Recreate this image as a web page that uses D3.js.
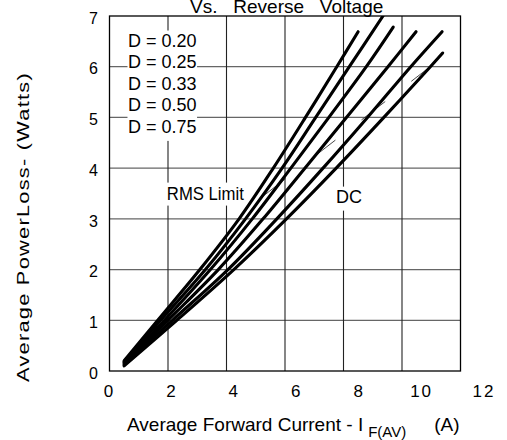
<!DOCTYPE html>
<html>
<head>
<meta charset="utf-8">
<script src="https://cdn.jsdelivr.net/npm/d3@7"></script>
<style>
  body { margin: 0; background: #fff; }
  text { font-family: "Liberation Sans", Arial, sans-serif; fill: #000; }
</style>
</head>
<body>
<svg id="chart" width="507" height="440"></svg>
<script>
(function () {
  'use strict';

  var xTicks = [0, 2, 4, 6, 8, 10, 12];
  var yTicks = [0, 1, 2, 3, 4, 5, 6, 7];
  var legendLabels = ["D = 0.20", "D = 0.25", "D = 0.33", "D = 0.50", "D = 0.75"];

  // [current (A), power loss (W)]
  var duty020 = [[0.5, 0.20], [1.65, 1], [3.09, 2], [4.43, 3], [5.60, 4], [6.70, 5], [7.77, 6], [8.50, 6.69]];
  var duty025 = [[0.5, 0.18], [1.75, 1], [3.28, 2], [4.65, 3], [5.90, 4], [7.05, 5], [8.20, 6], [9.35, 7.0]];
  var duty033 = [[0.5, 0.16], [1.88, 1], [3.45, 2], [4.88, 3], [6.20, 4], [7.50, 5], [8.78, 6], [9.70, 6.78]];
  var duty050 = [[0.5, 0.14], [2.00, 1], [3.72, 2], [5.25, 3], [6.68, 4], [8.10, 5], [9.52, 6], [10.48, 6.69]];
  var duty075 = [[0.5, 0.12], [2.15, 1], [4.05, 2], [5.72, 3], [7.30, 4], [8.82, 5], [10.30, 6], [11.37, 6.69]];
  var dcCurve = [[0.5, 0.10], [2.30, 1], [4.25, 2], [6.05, 3], [7.75, 4], [9.38, 5], [10.97, 6], [11.39, 6.27]];
  var curves = [duty020, duty025, duty033, duty050, duty075, dcCurve];

  var rmsLimit = [[5.21, 3.43], [11.03, 6.03]];

  var W = 507, H = 440;
  var margin = {left: 109.5, top: 16, right: 46.5, bottom: 69};
  var w = W - margin.left - margin.right;
  var h = H - margin.top - margin.bottom;

  var x = d3.scaleLinear().domain([0, 12]).range([0, w]);
  var y = d3.scaleLinear().domain([0, 7]).range([h, 0]);
  // the printed tick numbers sit a little wider apart than the grid
  var xLab = d3.scaleLinear().domain([0, 12]).range([-0.5, 374]);

  var svg = d3.select("#chart");

  svg.append("text")
    .attr("x", 190).attr("y", 13)
    .style("font-size", "19px")
    .style("white-space", "pre")
    .text("Vs.   Reverse   Voltage");

  var g = svg.append("g")
    .attr("transform", "translate(" + margin.left + "," + margin.top + ")");

  g.append("clipPath").attr("id", "plotClip")
    .append("rect").attr("width", w).attr("height", h);

  // grid
  g.append("g").selectAll("line")
    .data(y.ticks(7).filter(function (d) { return d > 0 && d < 7; }))
    .enter().append("line")
    .attr("x1", 0).attr("x2", w)
    .attr("y1", function (d) { return y(d); })
    .attr("y2", function (d) { return y(d); })
    .style("stroke", "#666").style("stroke-width", 1.3);

  g.append("g").selectAll("line")
    .data(x.ticks(6).filter(function (d) { return d > 0 && d < 12; }))
    .enter().append("line")
    .attr("y1", 0).attr("y2", h)
    .attr("x1", function (d) { return x(d); })
    .attr("x2", function (d) { return x(d); })
    .style("stroke", "#222").style("stroke-width", 1.1);

  g.append("rect")
    .attr("width", w).attr("height", h)
    .style("fill", "none").style("stroke", "#000").style("stroke-width", 1.3);

  // labels with white boxes over the grid
  function boxed(parent, padX, padTop, padBottom) {
    var bb = parent.node().getBBox();
    parent.insert("rect", ":first-child")
      .attr("x", bb.x - padX).attr("y", bb.y - padTop)
      .attr("width", bb.width + 2 * padX)
      .attr("height", bb.height + padTop + padBottom)
      .style("fill", "#fff");
  }

  var legend = g.append("g");
  legend.selectAll("text")
    .data(legendLabels)
    .enter().append("text")
    .attr("x", 18.5)
    .attr("y", function (d, i) { return 30.5 + i * 21.6; })
    .style("font-size", "18px")
    .text(function (d) { return d; });
  boxed(legend, 0.5, 0, 4);

  var rmsLabel = g.append("g");
  rmsLabel.append("text")
    .attr("x", x(1.96)).attr("y", y(3.38))
    .attr("textLength", 77).attr("lengthAdjust", "spacingAndGlyphs")
    .style("font-size", "19px")
    .text("RMS Limit");
  boxed(rmsLabel, 0.5, 0, 2);

  var dcLabel = g.append("g");
  dcLabel.append("text")
    .attr("x", x(7.74)).attr("y", y(3.32))
    .style("font-size", "18px")
    .text("DC");
  boxed(dcLabel, 1, 0, 4);

  // RMS limit leader, beneath the curves
  var line = d3.line()
    .x(function (d) { return x(d[0]); })
    .y(function (d) { return y(d[1]); });

  g.append("path")
    .datum(rmsLimit)
    .attr("d", line)
    .style("fill", "none")
    .style("stroke", "#333")
    .style("stroke-width", 0.9)
    .style("stroke-dasharray", "30,33");

  var curveLine = d3.line()
    .curve(d3.curveCatmullRom.alpha(0.5))
    .x(function (d) { return x(d[0]); })
    .y(function (d) { return y(d[1]); });

  g.append("g").attr("clip-path", "url(#plotClip)")
    .selectAll("path")
    .data(curves)
    .enter().append("path")
    .attr("d", curveLine)
    .style("fill", "none")
    .style("stroke", "#000")
    .style("stroke-width", 3.1)
    .style("stroke-linecap", "round");

  // axes, numbers only
  var yAxis = g.append("g")
    .call(d3.axisLeft(y).tickValues(yTicks).tickSize(0).tickPadding(11.5).tickFormat(d3.format("d")));
  yAxis.select(".domain").remove();
  yAxis.selectAll("text")
    .attr("dy", "0.45em")
    .style("font-family", '"Liberation Sans", Arial, sans-serif')
    .style("font-size", "16px");

  var xAxis = g.append("g")
    .attr("transform", "translate(0," + h + ")")
    .call(d3.axisBottom(xLab).tickValues(xTicks).tickSize(0).tickPadding(0).tickFormat(d3.format("d")));
  xAxis.select(".domain").remove();
  xAxis.selectAll("text")
    .attr("y", 25.5).attr("dy", 0)
    .style("font-family", '"Liberation Sans", Arial, sans-serif')
    .style("font-size", "17px")
    .style("letter-spacing", "2px");

  // axis titles
  svg.append("text")
    .attr("transform", "rotate(-90)")
    .attr("x", -227).attr("y", 29)
    .attr("text-anchor", "middle")
    .attr("textLength", 310).attr("lengthAdjust", "spacingAndGlyphs")
    .style("font-size", "17px")
    .style("letter-spacing", "1px")
    .text("Average PowerLoss- (Watts)");

  var xTitle = svg.append("text")
    .attr("x", 127).attr("y", 431)
    .style("font-size", "19px");
  xTitle.append("tspan").text("Average Forward Current - I");
  xTitle.append("tspan").attr("dx", 5).attr("dy", 6).style("font-size", "15px").text("F(AV)");
  xTitle.append("tspan").attr("dx", 28).attr("dy", -6).text("(A)");
})();
</script>
</body>
</html>
